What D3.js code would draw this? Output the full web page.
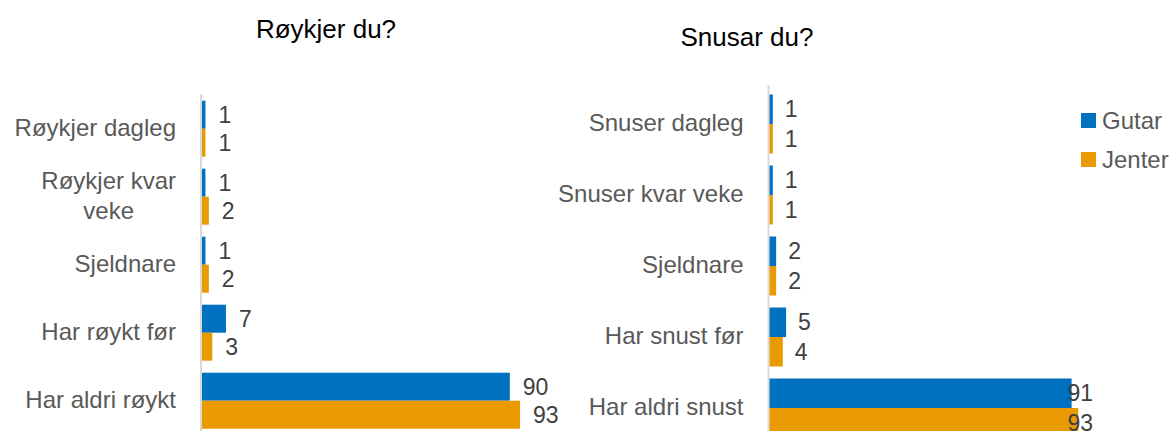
<!DOCTYPE html>
<html>
<head>
<meta charset="utf-8">
<script src="https://cdn.jsdelivr.net/npm/d3@7"></script>
<style>
  body { margin: 0; background: #fff; }
  svg text { font-family: "Liberation Sans", Arial, sans-serif; }
</style>
</head>
<body>
<div id="chart-area"></div>
<script>

// Data (percent)
var smokeCats = [['Røykjer dagleg'], ['Røykjer kvar', 'veke'], ['Sjeldnare'], ['Har røykt før'], ['Har aldri røykt']]
var smokeBoys = [1, 1, 1, 7, 90]
var smokeGirls = [1, 2, 2, 3, 93]

var snusCats = [['Snuser dagleg'], ['Snuser kvar veke'], ['Sjeldnare'], ['Har snust før'], ['Har aldri snust']]
var snusBoys = [1, 1, 2, 5, 91]
var snusGirls = [1, 1, 2, 4, 93]

var seriesNames = ['Gutar', 'Jenter']
var colors = ['#0070C0', '#E99A00']

var W = 1173, H = 431

svg = d3.select('#chart-area').append('svg')
	.attr('width', W)
	.attr('height', H)

// one panel = title + category labels + axis line + paired bars
function panel(opt) {
	var g = svg.append('g')

	var yScale = d3.scaleBand()
		.domain(d3.range(opt.cats.length))
		.range([opt.top, opt.bottom])
		.paddingInner(opt.pad)
		.paddingOuter(opt.pad / 2)

	var sub = d3.scaleBand()
		.domain([0, 1])
		.range([0, yScale.bandwidth()])

	var xScale = d3.scaleLinear()
		.domain([0, 100])
		.range([opt.x0, opt.x0 + opt.perUnit * 100])

	// title
	g.append('text')
		.attr('x', opt.titleX)
		.attr('y', opt.titleY)
		.attr('text-anchor', 'middle')
		.attr('font-size', '26px')
		.attr('fill', '#000')
		.text(opt.title)

	// vertical axis line
	g.append('line')
		.attr('x1', xScale(0) - 1).attr('x2', xScale(0) - 1)
		.attr('y1', opt.lineTop).attr('y2', H)
		.attr('stroke', '#D9D9D9')
		.attr('stroke-width', 2)

	// category labels (wrapped ones are centred under each other)
	opt.cats.forEach(function(lines, i) {
		var cy = yScale(i) + yScale.bandwidth() / 2
		var t = g.append('text')
			.attr('font-size', '24px')
			.attr('fill', '#595959')
		if (lines.length == 1) {
			t.attr('x', xScale(0) - 26)
				.attr('y', cy + 7)
				.attr('text-anchor', 'end')
				.text(lines[0])
		} else {
			var tmp = t.append('tspan').text(lines[0])
			var w = tmp.node().getComputedTextLength()
			tmp.remove()
			var cx = xScale(0) - 26 - w / 2
			t.attr('text-anchor', 'middle')
			lines.forEach(function(s, k) {
				t.append('tspan')
					.attr('x', cx)
					.attr('y', cy - 8 + k * 30)
					.text(s)
			})
		}
	})

	// bars + value labels
	var series = [opt.boys, opt.girls]
	series.forEach(function(vals, s) {
		var bg = g.append('g')

		bg.selectAll('rect')
			.data(vals)
			.enter()
			.append('rect')
			.attr('x', xScale(0))
			.attr('y', function(d, i) { return yScale(i) + sub(s) })
			.attr('width', function(d) { return xScale(d) - xScale(0) })
			.attr('height', sub.bandwidth())
			.attr('fill', colors[s])

		bg.selectAll('text')
			.data(vals)
			.enter()
			.append('text')
			.attr('y', function(d, i) { return yScale(i) + sub(s) + sub.bandwidth() / 2 })
			.attr('dy', '0.35em')
			.attr('font-size', '23px')
			.attr('fill', '#404040')
			.text(function(d) { return d })
			.attr('x', function(d) {
				var w = this.getComputedTextLength()
				return Math.min(xScale(d) + opt.gap, opt.labelMax - w)
			})
	})
}

panel({
	title: 'Røykjer du?', titleX: 326, titleY: 38,
	cats: smokeCats, boys: smokeBoys, girls: smokeGirls,
	top: 94.7, bottom: 434.7, pad: 12 / 68, lineTop: 94,
	x0: 202, perUnit: 3.42, gap: 13, labelMax: 600
})

panel({
	title: 'Snusar du?', titleX: 747, titleY: 46,
	cats: snusCats, boys: snusBoys, girls: snusGirls,
	top: 88.5, bottom: 443.5, pad: 12 / 71, lineTop: 85,
	x0: 769.5, perUnit: 3.32, gap: 12, labelMax: 1093
})

// LEGEND
var legend = svg.append('g')
	.attr('transform', 'translate(1081,0)')

legend.selectAll('rect')
	.data(seriesNames)
	.enter()
	.append('rect')
	.attr('x', 0)
	.attr('y', function(d, i) { return 113 + 39 * i })
	.attr('width', 15)
	.attr('height', 15)
	.attr('fill', function(d, i) { return colors[i] })

legend.selectAll('text')
	.data(seriesNames)
	.enter()
	.append('text')
	.attr('x', 21)
	.attr('y', function(d, i) { return 120.5 + 39 * i })
	.attr('dy', '0.35em')
	.attr('font-size', '24px')
	.attr('fill', '#595959')
	.text(function(d) { return d })

</script>
</body>
</html>
